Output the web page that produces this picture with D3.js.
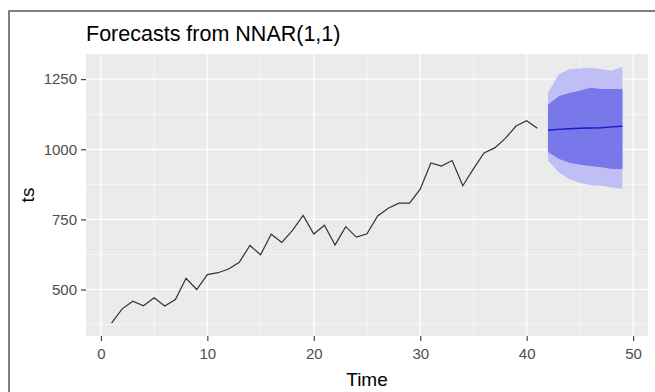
<!DOCTYPE html>
<html>
<head>
<meta charset="utf-8">
<script src="https://cdn.jsdelivr.net/npm/d3@7"></script>
<style>
  body { margin: 0; background: #fff; }
  svg { display: block; font-family: "Liberation Sans", Arial, sans-serif; }
</style>
</head>
<body>
<div id="chart"></div>
<script>
// Série observée (t = 1..41)
const histValues = [380, 431, 458, 442, 471, 441, 464, 540, 500, 553,
    560, 573, 597, 657, 624, 697, 668, 711, 764, 698,
    729, 659, 724, 687, 699, 762, 790, 808, 808, 858,
    951, 940, 960, 870, 930, 987, 1005, 1039, 1083, 1102,
    1075];

// Prévisions (t = 42..49)
const fcMean = [1068, 1071, 1073, 1075, 1076, 1077, 1080, 1082];
const lo80 = [990, 966, 952, 945, 940, 936, 930, 930];
const hi80 = [1159, 1189, 1201, 1209, 1219, 1215, 1215, 1215];
const lo95 = [960, 918, 894, 880, 873, 870, 864, 858];
const hi95 = [1201, 1267, 1285, 1288, 1291, 1285, 1281, 1294];

const xTicks = [0, 10, 20, 30, 40, 50];
const yTicks = [500, 750, 1000, 1250];
const yMinor = [375, 625, 875, 1125];
const xMinor = [5, 15, 25, 35, 45];

const width = 655;
const height = 392;
const panel = {left: 86, right: 648, top: 54, bottom: 336};

const hist = histValues.map((v, i) => ({t: i + 1, v: v}));
const fc = fcMean.map((v, i) => ({
    t: histValues.length + 1 + i, mean: v,
    lo80: lo80[i], hi80: hi80[i], lo95: lo95[i], hi95: hi95[i]
}));

// Étendue avec expansion de 5 % comme ggplot
const allT = hist.map(d => d.t).concat(fc.map(d => d.t));
const allV = histValues.concat(lo95, hi95);
const tExt = d3.extent(allT);
const vExt = d3.extent(allV);
const tPad = (tExt[1] - tExt[0]) * 0.05;
const vPad = (vExt[1] - vExt[0]) * 0.05;

const x = d3.scaleLinear()
    .domain([tExt[0] - tPad, tExt[1] + tPad])
    .range([panel.left, panel.right]);
const y = d3.scaleLinear()
    .domain([vExt[0] - vPad, vExt[1] + vPad])
    .range([panel.bottom, panel.top]);

const svg = d3.select("#chart")
    .append("svg")
    .attr("width", width)
    .attr("height", height);

// Cadre extérieur
svg.append("rect")
    .attr("x", 9).attr("y", 11)
    .attr("width", width + 10).attr("height", height + 10)
    .attr("fill", "#fff")
    .attr("stroke", "#555")
    .attr("stroke-width", 1.5);

// Fond du panneau
svg.append("rect")
    .attr("x", panel.left).attr("y", panel.top)
    .attr("width", panel.right - panel.left)
    .attr("height", panel.bottom - panel.top)
    .attr("fill", "#EBEBEB");

// Grille
const grid = svg.append("g");
grid.selectAll(".ymin").data(yMinor).enter().append("line")
    .attr("x1", panel.left).attr("x2", panel.right)
    .attr("y1", d => y(d)).attr("y2", d => y(d))
    .attr("stroke", "#fff").attr("stroke-width", 0.6);
grid.selectAll(".xmin").data(xMinor).enter().append("line")
    .attr("y1", panel.top).attr("y2", panel.bottom)
    .attr("x1", d => x(d)).attr("x2", d => x(d))
    .attr("stroke", "#fff").attr("stroke-width", 0.6);
grid.selectAll(".ymaj").data(yTicks).enter().append("line")
    .attr("x1", panel.left).attr("x2", panel.right)
    .attr("y1", d => y(d)).attr("y2", d => y(d))
    .attr("stroke", "#fff").attr("stroke-width", 1.2);
grid.selectAll(".xmaj").data(xTicks).enter().append("line")
    .attr("y1", panel.top).attr("y2", panel.bottom)
    .attr("x1", d => x(d)).attr("x2", d => x(d))
    .attr("stroke", "#fff").attr("stroke-width", 1.2);

// Intervalles de prévision
svg.append("path")
    .datum(fc)
    .attr("fill", "#BFBFF6")
    .attr("d", d3.area().x(d => x(d.t)).y0(d => y(d.lo95)).y1(d => y(d.hi95)));
svg.append("path")
    .datum(fc)
    .attr("fill", "#7878EA")
    .attr("d", d3.area().x(d => x(d.t)).y0(d => y(d.lo80)).y1(d => y(d.hi80)));

// Série observée
svg.append("path")
    .datum(hist)
    .attr("fill", "none")
    .attr("stroke", "#333")
    .attr("stroke-width", 1.2)
    .attr("d", d3.line().x(d => x(d.t)).y(d => y(d.v)));

// Prévision moyenne
svg.append("path")
    .datum(fc)
    .attr("fill", "none")
    .attr("stroke", "#1818C8")
    .attr("stroke-width", 1.4)
    .attr("d", d3.line().x(d => x(d.t)).y(d => y(d.mean)));

// Axes
const xAxis = svg.append("g")
    .attr("transform", `translate(0,${panel.bottom})`)
    .call(d3.axisBottom(x).tickValues(xTicks).tickFormat(d3.format("d"))
        .tickSize(5).tickPadding(7));
const yAxis = svg.append("g")
    .attr("transform", `translate(${panel.left},0)`)
    .call(d3.axisLeft(y).tickValues(yTicks).tickFormat(d3.format("d"))
        .tickSize(5).tickPadding(4));
[xAxis, yAxis].forEach(a => {
    a.select(".domain").remove();
    a.selectAll(".tick line").attr("stroke", "#333").attr("stroke-width", 1.1);
    a.selectAll(".tick text")
        .attr("fill", "#4D4D4D")
        .attr("font-size", "15px")
        .attr("font-family", "Liberation Sans, Arial, sans-serif");
});

// Titres
svg.append("text")
    .attr("x", panel.left)
    .attr("y", 41)
    .attr("font-size", "21.5px")
    .attr("fill", "#000")
    .text("Forecasts from NNAR(1,1)");

svg.append("text")
    .attr("x", (panel.left + panel.right) / 2)
    .attr("y", 386)
    .attr("text-anchor", "middle")
    .attr("font-size", "19px")
    .attr("fill", "#000")
    .text("Time");

svg.append("text")
    .attr("transform", `translate(34,${(panel.top + panel.bottom) / 2}) rotate(-90)`)
    .attr("text-anchor", "middle")
    .attr("font-size", "19px")
    .attr("fill", "#000")
    .text("ts");
</script>
</body>
</html>
